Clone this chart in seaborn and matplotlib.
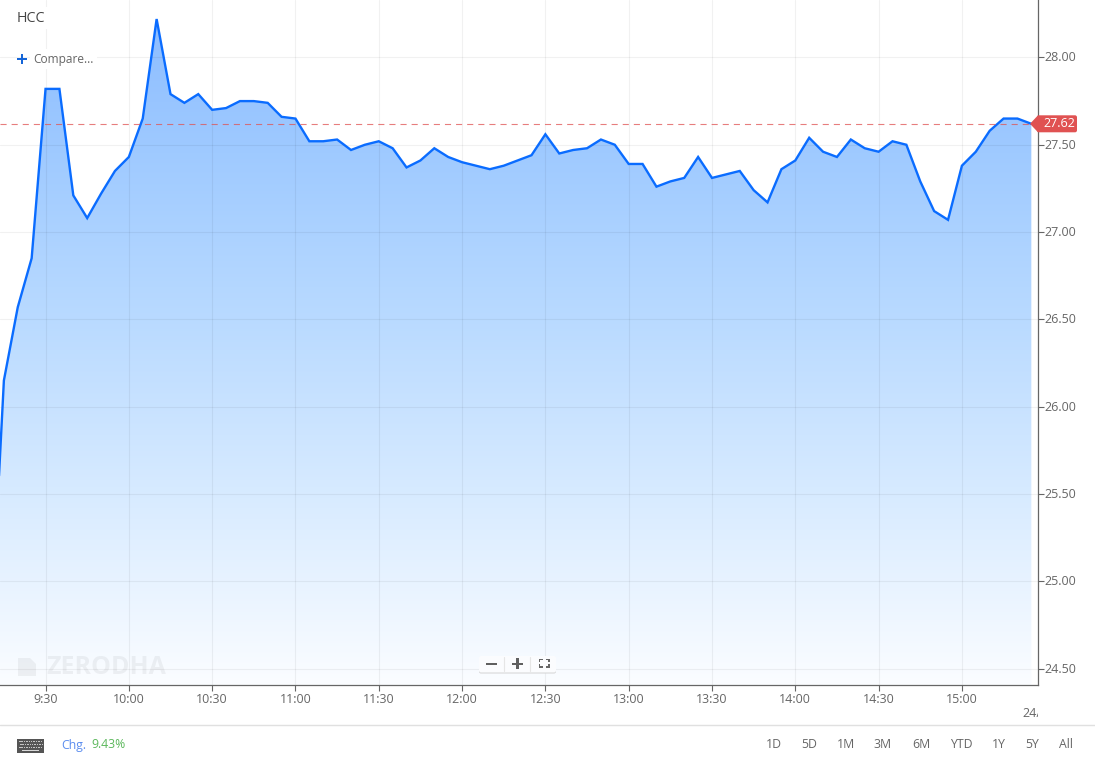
"""
HCC intraday area chart, 5 minute candles, in the Zerodha chart widget look.
"""

import numpy as np
import pandas as pd
import matplotlib
matplotlib.use("Agg")
import matplotlib.pyplot as plt
from matplotlib.colors import LinearSegmentedColormap
from matplotlib.patches import FancyBboxPatch, Polygon, Rectangle
from matplotlib.transforms import Bbox, ScaledTranslation
import seaborn as sns

# ─── Data ─────────────────────────────────────────────────────────────────────

symbol = "HCC"
change_text = "9.43%"
start_minute = 9 * 60 + 10
step_minutes = 5

prices = [
    24.60, 26.15, 26.57, 26.85, 27.82, 27.82, 27.21, 27.08, 27.22, 27.35,
    27.43, 27.65, 28.22, 27.79, 27.74, 27.79, 27.70, 27.71, 27.75, 27.75,
    27.74, 27.66, 27.65, 27.52, 27.52, 27.53, 27.47, 27.50, 27.52, 27.48,
    27.37, 27.41, 27.48, 27.43, 27.40, 27.38, 27.36, 27.38, 27.41, 27.44,
    27.56, 27.45, 27.47, 27.48, 27.53, 27.50, 27.39, 27.39, 27.26, 27.29,
    27.31, 27.43, 27.31, 27.33, 27.35, 27.24, 27.17, 27.36, 27.41, 27.54,
    27.46, 27.43, 27.53, 27.48, 27.46, 27.52, 27.50, 27.29, 27.12, 27.07,
    27.38, 27.46, 27.58, 27.65, 27.65, 27.62,
]
x_tick_labels = ["9:30", "10:00", "10:30", "11:00", "11:30", "12:00",
                 "12:30", "13:00", "13:30", "14:00", "14:30", "15:00"]
y_ticks = [24.5, 25.0, 25.5, 26.0, 26.5, 27.0, 27.5, 28.0]
range_buttons = ["1D", "5D", "1M", "3M", "6M", "YTD", "1Y", "5Y", "All"]
range_button_x = [774, 809, 846, 883, 921, 961, 999, 1032, 1066]

LINE = "#0a6cff"
TEXT = "#666666"
TAG = "#e05252"
W, H = 1095, 763
FS = 9


def to_minutes(label):
    hh, mm = label.split(":")
    return int(hh) * 60 + int(mm)


df = pd.DataFrame({
    "minute": start_minute + step_minutes * np.arange(len(prices)),
    "price": prices,
})

sns.set_theme(style="white")
plt.rcParams["font.family"] = ["Open Sans", "DejaVu Sans"]

fig = plt.figure(figsize=(W / 100, H / 100), dpi=100, facecolor="white")
ax = fig.add_axes([0, 1 - 685 / H, 1038 / W, 685 / H])

# ─── Price area ───────────────────────────────────────────────────────────────

xlim = (553.6, 927.4)
ylim = (24.406, 28.329)

fill = ax.fill_between(df["minute"], df["price"], ylim[0],
                       color="none", linewidth=0, zorder=1)
cmap = LinearSegmentedColormap.from_list(
    "area", [(0, "#fbfdff"), (0.28, "#d8ebff"), (0.55, "#b9daff"),
             (0.80, "#9fcaff"), (1, "#8dbdff")])
grad = ax.imshow(np.linspace(1, 0, 256).reshape(-1, 1), cmap=cmap,
                 extent=(xlim[0], xlim[1], ylim[0], max(prices)),
                 aspect="auto", zorder=1, vmin=0, vmax=1)
grad.set_clip_path(fill.get_paths()[0], transform=ax.transData)

sns.lineplot(data=df, x="minute", y="price", ax=ax, color=LINE, linewidth=1.7,
             solid_joinstyle="miter", zorder=3)

# last price marker
ax.axhline(prices[-1], color=TAG, linewidth=0.8, alpha=0.75, dashes=(5.5, 4.5), zorder=4)

ax.set_xlim(*xlim)
ax.set_ylim(*ylim)
ax.set_xlabel("")
ax.set_ylabel("")

ax.set_xticks([to_minutes(t) for t in x_tick_labels])
ax.set_xticklabels(x_tick_labels)
ax.set_yticks(y_ticks)
ax.set_yticklabels([f"{v:.2f}" for v in y_ticks])
ax.yaxis.tick_right()
ax.tick_params(axis="both", length=4.3, width=0.8, color=TEXT, labelcolor=TEXT,
               labelsize=FS, bottom=True, right=True, left=False)
ax.tick_params(axis="x", pad=1.6)
ax.tick_params(axis="y", pad=0.6)

# y labels sit one pixel above their grid lines
nudge = ScaledTranslation(0, 1 / 100, fig.dpi_scale_trans)
for lbl in ax.get_yticklabels():
    lbl.set_transform(lbl.get_transform() + nudge)

ax.grid(True, color="black", alpha=0.055, linewidth=0.8, zorder=2)
ax.set_axisbelow(False)
for line in ax.get_xgridlines() + ax.get_ygridlines():
    line.set_zorder(2)

for side in ("top", "left"):
    ax.spines[side].set_visible(False)
for side in ("bottom", "right"):
    ax.spines[side].set_color(TEXT)
    ax.spines[side].set_linewidth(0.9)

# ─── Widget chrome, on a pixel overlay ────────────────────────────────────────

ov = fig.add_axes([0, 0, 1, 1], facecolor="none")
ov.set_xlim(0, W)
ov.set_ylim(H, 0)
ov.axis("off")

white_box = dict(facecolor="white", edgecolor="none", pad=2.5)
ov.text(17, 18, symbol, fontsize=10.3, color="#444444", va="center", bbox=white_box)
ov.text(33, 59, "Compare...", fontsize=8.6, color=TEXT, va="center", bbox=white_box)
ov.add_patch(Rectangle((17, 58), 10, 2, color="#1565d8", lw=0))
ov.add_patch(Rectangle((21, 54), 2, 10, color="#1565d8", lw=0))

# watermark
ov.add_patch(Polygon([(18, 658), (30, 658), (36, 664), (36, 676), (18, 676)],
                     color="black", alpha=0.05, lw=0))
ov.text(46, 668, "ZERODHA", fontsize=18, fontweight="bold", color="black",
        alpha=0.05, va="center")

# zoom buttons
ov.add_patch(FancyBboxPatch((479, 658), 77, 15.5, boxstyle="round,pad=0,rounding_size=2",
                            facecolor="#d4d4d4", edgecolor="none", zorder=5))
ov.add_patch(FancyBboxPatch((479, 656), 77, 16.5, boxstyle="round,pad=0,rounding_size=2",
                            facecolor="#fbfcfe", edgecolor="none", zorder=6))
ov.add_patch(Rectangle((486, 662.5), 10.5, 2.4, color="#606060", lw=0, zorder=7))
ov.add_patch(Rectangle((512, 662.5), 11, 2.4, color="#606060", lw=0, zorder=7))
ov.add_patch(Rectangle((516.3, 658), 2.4, 11, color="#606060", lw=0, zorder=7))
for cx, dx in ((538.5, 1), (549.5, -1)):
    for cy, dy in ((658.5, 1), (667.5, -1)):
        ov.add_patch(Rectangle((cx, cy), 4 * dx, 1.7 * dy, color="#666666", lw=0, zorder=7))
        ov.add_patch(Rectangle((cx, cy), 1.7 * dx, 3.5 * dy, color="#666666", lw=0, zorder=7))
for sep in (504, 530):
    ov.plot([sep, sep], [657, 671], color="#e6e6e6", lw=0.8, zorder=7)

# last price tag, follows the last value
tag_y = H - ax.transData.transform((xlim[0], prices[-1]))[1]
ov.add_patch(Polygon([(1030, tag_y), (1038, tag_y - 8.5), (1038, tag_y + 8.5)],
                     color=TAG, lw=0, zorder=6))
ov.add_patch(FancyBboxPatch((1037, tag_y - 8.5), 40, 17,
                            boxstyle="round,pad=0,rounding_size=2",
                            facecolor=TAG, edgecolor="none", zorder=6))
ov.text(1059.5, tag_y, f"{prices[-1]:.2f}", fontsize=FS, color="white",
        ha="center", va="center", zorder=7)

# date label cut off by the widget edge
cut = ov.text(1022, 713.5, "24/07", fontsize=FS, color=TEXT, va="center", clip_on=True)
cut.set_clip_box(Bbox([[0, 0], [1038, H]]))

# footer
ov.plot([0, W], [725, 725], color="#e0e0e0", lw=1)
ov.add_patch(Rectangle((17, 738.5), 27, 14, color="#555555", lw=0))
for row, ky in enumerate((740.5, 743.5, 746.5)):
    for kx in np.arange(19 + row % 2, 42.5, 2.4):
        ov.add_patch(Rectangle((kx, ky), 1.5, 1.6, color="#c4c4c4", lw=0))
ov.add_patch(Rectangle((22, 749.6), 17, 1.5, color="#d8d8d8", lw=0))
ov.text(61, 745, "Chg.", fontsize=8.8, color="#5b8def", va="center")
ov.text(91.5, 745, change_text, fontsize=8.8, color="#5cb85c", va="center")
for label, bx in zip(range_buttons, range_button_x):
    ov.text(bx, 745, label, fontsize=8.8, color=TEXT, ha="center", va="center")

fig.savefig("out.png", dpi=100)
plt.close(fig)
